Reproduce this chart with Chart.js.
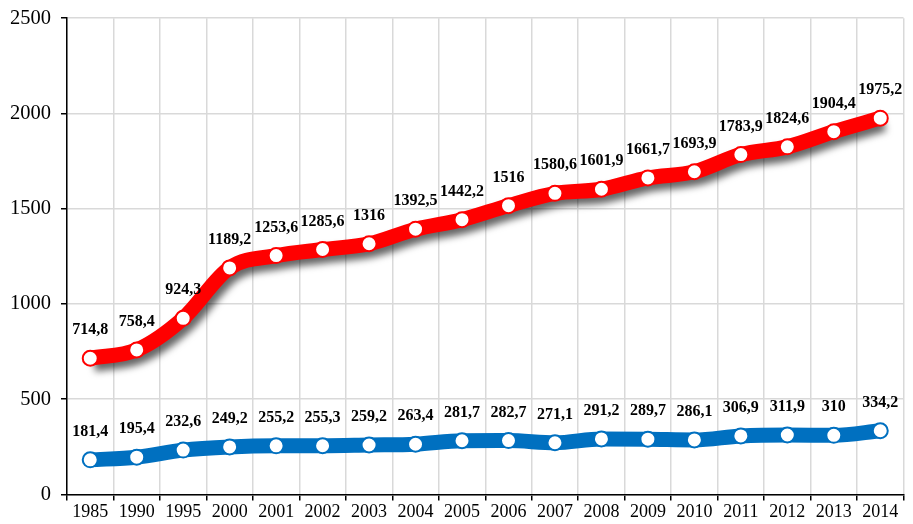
<!DOCTYPE html>
<html>
<head>
<meta charset="utf-8">
<script src="https://cdn.jsdelivr.net/npm/chart.js@4/dist/chart.umd.min.js"></script>
<style>
html,body{margin:0;padding:0;background:#fff;}
#wrap{width:913px;height:524px;}
</style>
</head>
<body>
<div id="wrap"><canvas id="c" width="913" height="524"></canvas></div>
<script>
const years = ['1985','1990','1995','2000','2001','2002','2003','2004','2005','2006','2007','2008','2009','2010','2011','2012','2013','2014'];
const redValues = [714.8,758.4,924.3,1189.2,1253.6,1285.6,1316,1392.5,1442.2,1516,1580.6,1601.9,1661.7,1693.9,1783.9,1824.6,1904.4,1975.2];
const blueValues = [181.4,195.4,232.6,249.2,255.2,255.3,259.2,263.4,281.7,282.7,271.1,291.2,289.7,286.1,306.9,311.9,310,334.2];
const yTicks = [0,500,1000,1500,2000,2500];

const fmt = v => String(v).replace('.', ',');

const shadowPlugin = {
  id: 'shadowLine',
  beforeDatasetDraw(chart, args) {
    if (args.index !== 0) return;
    const ctx = chart.ctx;
    const meta = args.meta;
    const area = chart.chartArea;
    ctx.save();
    ctx.shadowColor = 'rgba(0,0,0,0.6)';
    ctx.shadowBlur = 7;
    ctx.shadowOffsetX = 4;
    ctx.shadowOffsetY = 6;
    meta.dataset.draw(ctx, area);
    ctx.restore();
    meta.data.forEach(p => p.draw(ctx, area));
    return false;
  }
};

const labelPlugin = {
  id: 'valLabels',
  afterDatasetsDraw(chart) {
    const ctx = chart.ctx;
    ctx.save();
    ctx.font = 'bold 16px "Liberation Serif", "Times New Roman", serif';
    ctx.fillStyle = '#000';
    ctx.textAlign = 'center';
    ctx.textBaseline = 'middle';
    chart.data.datasets.forEach((ds, i) => {
      const meta = chart.getDatasetMeta(i);
      meta.data.forEach((p, j) => {
        ctx.fillText(fmt(ds.data[j]), p.x, p.y - 28);
      });
    });
    ctx.restore();
  }
};

new Chart(document.getElementById('c'), {
  type: 'line',
  data: {
    labels: years,
    datasets: [
      {
        data: redValues,
        borderColor: '#ff0000',
        borderWidth: 15,
        tension: 0.4,
        cubicInterpolationMode: 'monotone',
        pointRadius: 7.5,
        pointBackgroundColor: '#ffffff',
        pointBorderColor: '#ff0000',
        pointBorderWidth: 2,
        fill: false
      },
      {
        data: blueValues,
        borderColor: '#0070c0',
        borderWidth: 15,
        tension: 0.4,
        cubicInterpolationMode: 'monotone',
        pointRadius: 7.5,
        pointBackgroundColor: '#ffffff',
        pointBorderColor: '#0070c0',
        pointBorderWidth: 2,
        fill: false
      }
    ]
  },
  options: {
    responsive: false,
    animation: false,
    devicePixelRatio: 1,
    layout: { padding: { top: 1, right: 1, left: 0, bottom: 0 } },
    plugins: { legend: { display: false }, tooltip: { enabled: false } },
    scales: {
      x: {
        offset: true,
        grid: { offset: true, color: '#d9d9d9', lineWidth: 1.5, drawTicks: true, tickLength: 6, tickColor: '#000' },
        border: { color: '#000', width: 1.5 },
        ticks: { color: '#000', font: { family: '"Liberation Serif", "Times New Roman", serif', size: 18 }, padding: 1, maxRotation: 0, autoSkip: false }
      },
      y: {
        min: 0, max: 2500,
        afterBuildTicks(axis) { axis.ticks = yTicks.map(v => ({ value: v })); },
        grid: { color: '#d9d9d9', lineWidth: 1.5, tickLength: 6, tickColor: '#000' },
        border: { color: '#000', width: 1.5 },
        ticks: { color: '#000', font: { family: '"Liberation Serif", "Times New Roman", serif', size: 20.5, lineHeight: 0.8 }, padding: 10, callback: v => String(v) }
      }
    }
  },
  plugins: [shadowPlugin, labelPlugin]
});
</script>
</body>
</html>
